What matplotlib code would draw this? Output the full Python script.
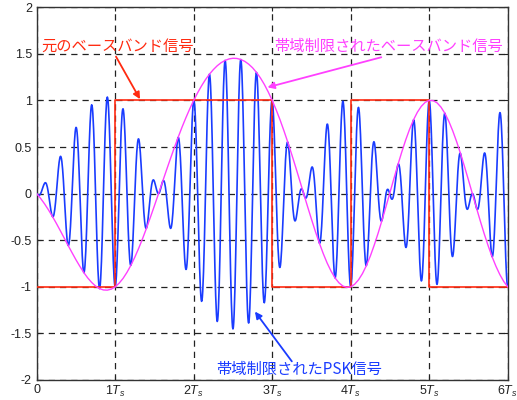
import numpy as np
import matplotlib
matplotlib.use("Agg")
import matplotlib.pyplot as plt

plt.rcParams['font.family'] = ['Liberation Sans', 'Noto Sans CJK JP']
plt.rcParams['mathtext.fontset'] = 'custom'
plt.rcParams['mathtext.rm'] = 'Liberation Sans'
plt.rcParams['mathtext.it'] = 'Liberation Sans:italic'
plt.rcParams['axes.unicode_minus'] = False

# ---- data ----
# original baseband symbols (one per symbol period Ts)
symbol_edges = [0, 1, 2, 3, 4, 5, 6]
symbols = [-1, 1, 1, -1, 1, -1]

# band-limited baseband signal, sampled every 0.05 Ts from 0 to 6 Ts
bl_step = 0.05
bandlimited = [
    -0.000, -0.052, -0.110, -0.175, -0.245, -0.319, -0.397, -0.476, -0.556, -0.634,
    -0.710, -0.781, -0.847, -0.905, -0.953, -0.992, -1.019, -1.034, -1.036, -1.025,
    -1.000, -0.961, -0.910, -0.845, -0.769, -0.682, -0.585, -0.480, -0.368, -0.250,
    -0.129, -0.005, 0.120, 0.244, 0.366, 0.485, 0.600, 0.710, 0.813, 0.910,
    1.000, 1.082, 1.156, 1.223, 1.281, 1.330, 1.372, 1.405, 1.429, 1.445,
    1.452, 1.450, 1.439, 1.419, 1.389, 1.350, 1.300, 1.241, 1.171, 1.090,
    1.000, 0.900, 0.791, 0.673, 0.548, 0.417, 0.281, 0.142, 0.002, -0.138,
    -0.274, -0.406, -0.529, -0.643, -0.745, -0.832, -0.904, -0.957, -0.992, -1.006,
    -1.000, -0.973, -0.925, -0.858, -0.772, -0.670, -0.552, -0.423, -0.283, -0.138,
    0.011, 0.160, 0.306, 0.445, 0.574, 0.690, 0.791, 0.874, 0.937, 0.980,
    1.000, 0.998, 0.974, 0.928, 0.861, 0.776, 0.673, 0.556, 0.427, 0.289,
    0.146, -0.001, -0.148, -0.291, -0.429, -0.557, -0.675, -0.779, -0.869, -0.943,
    -1.000,
]
carrier_cycles_per_Ts = 5

x_ticks = [0, 1, 2, 3, 4, 5, 6]
x_ticklabels = ['0', r'1$T_s$', r'2$T_s$', r'3$T_s$', r'4$T_s$', r'5$T_s$', r'6$T_s$']
y_ticks = [-2, -1.5, -1, -0.5, 0, 0.5, 1, 1.5, 2]
y_ticklabels = ['-2', '-1.5', '-1', '-0.5', '0', '0.5', '1', '1.5', '2']

label_orig = '元のベースバンド信号'
label_bl = '帯域制限されたベースバンド信号'
label_psk = '帯域制限されたPSK信号'

RED = '#ff2a10'
MAG = '#ff40ff'
BLUE = '#1a3cff'

# ---- figure ----
fig = plt.figure(figsize=(5.17, 4.0), dpi=100)
ax = fig.add_axes([0.071, 0.05, 0.911, 0.932])

t_bl = np.arange(len(bandlimited)) * bl_step
m = np.array(bandlimited)
t_fine = np.linspace(0, 6, 1201)
m_fine = np.interp(t_fine, t_bl, m)
psk = m_fine * np.cos(2 * np.pi * carrier_cycles_per_Ts * t_fine)

ax.plot(t_fine, psk, color=BLUE, lw=1.2, zorder=3)
ax.step(symbol_edges, symbols + [symbols[-1]], where='post', color=RED, lw=1.2, zorder=4)
ax.plot(t_bl, m, color=MAG, lw=1.0, zorder=5)

ax.set_xlim(0, 6)
ax.set_ylim(-2, 2)
ax.set_xticks(x_ticks)
ax.set_xticklabels(x_ticklabels)
ax.set_yticks(y_ticks)
ax.set_yticklabels(y_ticklabels)
ax.tick_params(direction='in', length=3, labelsize=9, colors='#222222', top=True, right=True)
ax.tick_params(axis='x', pad=3)
ax.grid(True, color='#222222', linestyle=(0, (5, 4)), lw=0.9, zorder=1)
for s in ax.spines.values():
    s.set_color('#333333')
    s.set_linewidth(1.0)

cjk = ['Noto Sans CJK JP', 'DejaVu Sans']
arrow_kw = dict(arrowstyle='-|>', lw=1.3, mutation_scale=10, shrinkA=0, shrinkB=0)

ax.text(0.06, 1.58, label_orig, color=RED, fontsize=11, family=cjk,
        va='center', ha='left', zorder=6)
ax.annotate('', xy=(1.316, 1.013), xytext=(1.01, 1.47),
            arrowprops=dict(color=RED, **arrow_kw), zorder=6)

ax.text(5.94, 1.58, label_bl, color=MAG, fontsize=11, family=cjk,
        va='center', ha='right', zorder=6)
ax.annotate('', xy=(2.94, 1.14), xytext=(4.39, 1.463),
            arrowprops=dict(color=MAG, **arrow_kw), zorder=6)

ax.text(2.29, -1.89, label_psk, color=BLUE, fontsize=11, family=cjk,
        va='center', ha='left', zorder=6)
ax.annotate('', xy=(2.78, -1.266), xytext=(3.25, -1.80),
            arrowprops=dict(color=BLUE, **arrow_kw), zorder=6)

fig.savefig("out.png")
